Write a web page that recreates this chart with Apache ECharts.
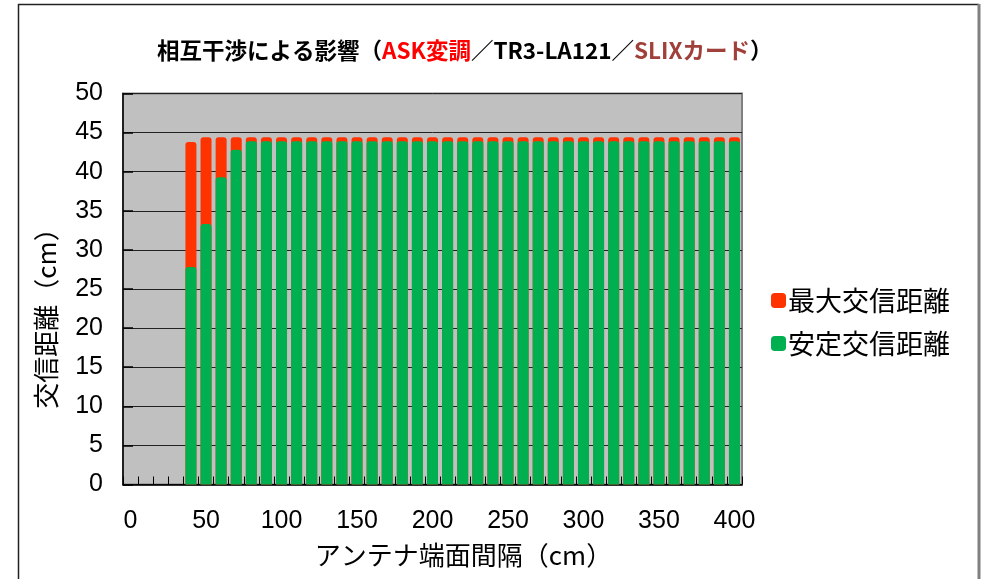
<!DOCTYPE html>
<html>
<head>
<meta charset="utf-8">
<script src="https://cdn.jsdelivr.net/npm/echarts@6/dist/echarts.min.js"></script>
<style>
  html, body { margin: 0; padding: 0; background: #fff; }
  #chart { width: 981px; height: 579px; }
</style>
</head>
<body>
<div id="chart"></div>
<script>
// アンテナ端面間隔 (cm)
const distances = ['0','10','20','30','40','50','60','70','80','90',
  '100','110','120','130','140','150','160','170','180','190',
  '200','210','220','230','240','250','260','270','280','290',
  '300','310','320','330','340','350','360','370','380','390','400'];

// 最大交信距離 (cm)
const maxRange = [null, null, null, null, 43.8, 44.4, 44.4, 44.4, 44.4, 44.4,
  44.4, 44.4, 44.4, 44.4, 44.4, 44.4, 44.4, 44.4, 44.4, 44.4,
  44.4, 44.4, 44.4, 44.4, 44.4, 44.4, 44.4, 44.4, 44.4, 44.4,
  44.4, 44.4, 44.4, 44.4, 44.4, 44.4, 44.4, 44.4, 44.4, 44.4, 44.4];

// 安定交信距離 (cm)
const stableRange = [null, null, null, null, 27.8, 33.3, 39.3, 42.8, 43.9, 43.9,
  43.9, 43.9, 43.9, 43.9, 43.9, 43.9, 43.9, 43.9, 43.9, 43.9,
  43.9, 43.9, 43.9, 43.9, 43.9, 43.9, 43.9, 43.9, 43.9, 43.9,
  43.9, 43.9, 43.9, 43.9, 43.9, 43.9, 43.9, 43.9, 43.9, 43.9, 43.9];

const seriesNames = ['最大交信距離', '安定交信距離'];
const seriesColors = ['#FF3300', '#00B050'];

const FONT = "'Liberation Sans', 'Noto Sans CJK JP', sans-serif";
const JP = "'Noto Sans CJK JP', sans-serif";

const chart = echarts.init(document.getElementById('chart'), null, { renderer: 'canvas' });

chart.setOption({
  backgroundColor: '#ffffff',
  animation: false,
  title: {
    text: '{b|相互干渉による影響（}{r|ASK変調}{b|／TR3-LA121／}{m|SLIXカード}{b|）}',
    left: 152,
    top: 34,
    textStyle: {
      rich: {
        b: { fontFamily: JP, fontWeight: 'bold', fontSize: 22.5, color: '#000' },
        r: { fontFamily: JP, fontWeight: 'bold', fontSize: 22.5, color: '#FF0000' },
        m: { fontFamily: JP, fontWeight: 'bold', fontSize: 22.5, color: '#A0403A' }
      }
    }
  },
  legend: {
    orient: 'vertical',
    left: 766,
    top: 282,
    itemWidth: 15,
    itemHeight: 15,
    itemGap: 16,
    icon: 'roundRect',
    data: seriesNames,
    textStyle: { fontFamily: JP, fontSize: 27, color: '#000', padding: [0, 0, 0, -3] }
  },
  graphic: [
    { type: 'line', shape: { x1: 18, y1: 4.5, x2: 979, y2: 4.5 }, style: { stroke: '#222', lineWidth: 1.5 } },
    { type: 'line', shape: { x1: 18.5, y1: 4, x2: 18.5, y2: 579 }, style: { stroke: '#222', lineWidth: 1.5 } },
    { type: 'line', shape: { x1: 979, y1: 4, x2: 979, y2: 579 }, style: { stroke: '#808080', lineWidth: 3 } }
  ],
  grid: {
    left: 123,
    right: 239,
    top: 93.5,
    bottom: 94.5,
    show: true,
    backgroundColor: '#C0C0C0',
    borderColor: '#808080',
    borderWidth: 2
  },
  xAxis: {
    type: 'category',
    data: distances,
    boundaryGap: true,
    name: 'アンテナ端面間隔（cm）',
    nameLocation: 'middle',
    nameGap: 58,
    nameTextStyle: { fontFamily: JP, fontSize: 26, color: '#000', padding: [0, 0, 0, 62] },
    axisLine: { show: true, lineStyle: { color: '#000', width: 1.5 } },
    axisTick: { show: true, inside: true, length: 8, interval: 0, lineStyle: { color: '#000', width: 1 } },
    axisLabel: { interval: 4, fontFamily: FONT, fontSize: 25, color: '#000', margin: 24 },
    splitLine: { show: false }
  },
  yAxis: {
    type: 'value',
    min: 0,
    max: 50,
    interval: 5,
    name: '交信距離（cm）',
    nameLocation: 'middle',
    nameGap: 64,
    nameRotate: 90,
    nameTextStyle: { fontFamily: JP, fontSize: 26, color: '#000', padding: [0, 46, 0, 0] },
    axisLine: { show: true, lineStyle: { color: '#000', width: 1.5 } },
    axisTick: { show: true, inside: true, length: 10, lineStyle: { color: '#000', width: 1.5 } },
    axisLabel: { fontFamily: FONT, fontSize: 25, color: '#000', margin: 20 },
    splitLine: { show: true, lineStyle: { color: '#222', width: 1 } }
  },
  series: [
    {
      name: seriesNames[0],
      type: 'bar',
      data: maxRange,
      barWidth: 11,
      barGap: '-100%',
      itemStyle: { color: seriesColors[0], borderRadius: [3, 3, 0, 0] }
    },
    {
      name: seriesNames[1],
      type: 'bar',
      data: stableRange,
      barWidth: 11,
      barGap: '-100%',
      itemStyle: { color: seriesColors[1], borderRadius: [3, 3, 0, 0] }
    }
  ]
});
</script>
</body>
</html>
